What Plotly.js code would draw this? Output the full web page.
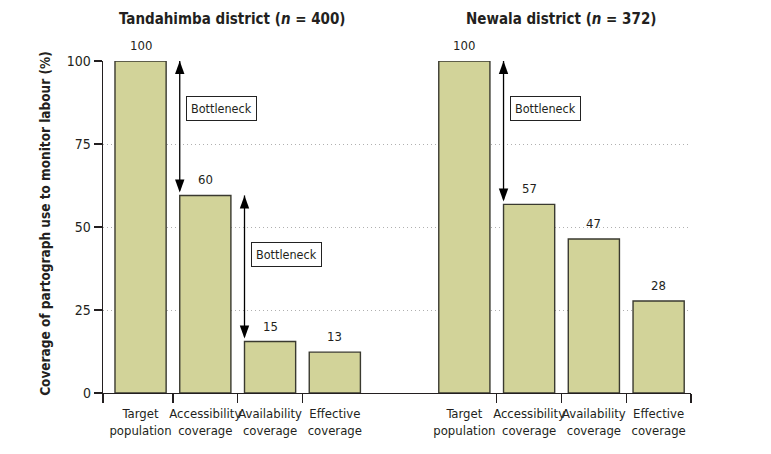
<!DOCTYPE html>
<html>
<head>
<meta charset="utf-8">
<script src="https://cdn.plot.ly/plotly-3.0.1.min.js"></script>
<style>
  html, body { margin: 0; padding: 0; background: #fff; }
  #chart { width: 771px; height: 454px; }
</style>
</head>
<body>
<div id="chart"></div>
<script>
// ---- data ----
const categories = ['Target<br>population', 'Accessibility<br>coverage', 'Availability<br>coverage', 'Effective<br>coverage'];
const tandahimbaValues = [100, 59.5, 15.5, 12.3];
const tandahimbaLabels = ['100', '60', '15', '13'];
const newalaValues = [100, 56.8, 46.4, 27.7];
const newalaLabels = ['100', '57', '47', '28'];
const districtTitles = ['Tandahimba district (<i>n</i> = 400)', 'Newala district (<i>n</i> = 372)'];
const bottleneckText = 'Bottleneck';
// bottlenecks: [district index, from category, to category]
const bottlenecks = [[0, 0, 1], [0, 1, 2], [1, 0, 1]];
const yTicks = [0, 25, 50, 75, 100];

// ---- layout helpers ----
const FONT = "'DejaVu Sans Condensed', 'Liberation Sans Narrow', 'Arial Narrow', sans-serif";
const INK = '#231f20';
const BAR_FILL = '#d2d399';
const BAR_LINE = '#3a3a30';
const BAR_W = 0.79;
const groupOffset = [0, categories.length + 1];
const districts = [
  { values: tandahimbaValues, labels: tandahimbaLabels },
  { values: newalaValues, labels: newalaLabels }
];

const traces = districts.map((d, g) => ({
  type: 'bar',
  x: categories.map((c, i) => i + groupOffset[g]),
  y: d.values,
  width: BAR_W,
  marker: { color: BAR_FILL, line: { color: BAR_LINE, width: 1.4 } },
  hoverinfo: 'skip',
  showlegend: false
}));
// invisible trace to activate xaxis2 (category labels)
const allX = [], allLabels = [];
districts.forEach((d, g) => categories.forEach((c, i) => { allX.push(i + groupOffset[g]); allLabels.push(c); }));
traces.push({ type: 'scatter', x: allX, y: allX.map(() => 0), xaxis: 'x2', mode: 'none', hoverinfo: 'skip', showlegend: false });

const xMin = -0.58, xMax = groupOffset[1] + categories.length - 0.5;
const boundaryTicks = [xMin];
districts.forEach((d, g) => { for (let i = 1; i < categories.length; i++) boundaryTicks.push(groupOffset[g] + i - 0.5); });
boundaryTicks.push(xMax);

const annotations = [];
// value labels
districts.forEach((d, g) => d.values.forEach((v, i) => annotations.push({
  x: i + groupOffset[g], y: v, xref: 'x', yref: 'y', text: d.labels[i],
  showarrow: false, yanchor: 'bottom', yshift: 6,
  font: { family: FONT, size: 13, color: INK }
})));
// district titles
const titleX = [1.42, 6.5];
districtTitles.forEach((t, g) => annotations.push({
  x: titleX[g], xref: 'x', y: 1, yref: 'paper', yanchor: 'middle', yshift: 42,
  text: '<b>' + t + '</b>', showarrow: false,
  font: { family: FONT, size: 15, color: INK }
}));
// y axis title
annotations.push({
  x: -0.099, xref: 'paper', y: 0.512, yref: 'paper', textangle: -90,
  text: '<b>Coverage of partograph use to monitor labour (%)</b>', showarrow: false,
  xanchor: 'center', yanchor: 'middle',
  font: { family: FONT, size: 13.5, color: INK }
});

// bottleneck arrows + boxes
const boxY = [85.7, 41.7, 85.6];
const shapes = [];
bottlenecks.forEach(([g, from, to], k) => {
  const vals = districts[g].values;
  const xa = groupOffset[g] + to - BAR_W / 2;
  shapes.push({ type: 'line', xref: 'x', yref: 'y', x0: xa, x1: xa, y0: vals[from], y1: vals[to] + 1.5,
    line: { color: '#000', width: 1.3 } });
  shapes.push({ type: 'path', xref: 'x', yref: 'y', xsizemode: 'pixel', ysizemode: 'pixel',
    xanchor: xa, yanchor: vals[from], path: 'M0,0 L-4.7,-13 L4.7,-13 Z',
    fillcolor: '#000', line: { width: 0 } });
  shapes.push({ type: 'path', xref: 'x', yref: 'y', xsizemode: 'pixel', ysizemode: 'pixel',
    xanchor: xa, yanchor: vals[to], path: 'M0,3 L-4.7,16 L4.7,16 Z',
    fillcolor: '#000', line: { width: 0 } });
  annotations.push({
    x: xa, xref: 'x', y: boxY[k], yref: 'y', xanchor: 'left', yanchor: 'middle', xshift: 6,
    text: bottleneckText, showarrow: false,
    bordercolor: '#222', borderwidth: 1, borderpad: 4, bgcolor: '#fff',
    font: { family: FONT, size: 12.5, color: INK }
  });
});

const layout = {
  width: 771, height: 454,
  margin: { l: 103, r: 80, t: 61, b: 61 },
  paper_bgcolor: '#fff', plot_bgcolor: '#fff',
  barmode: 'overlay',
  font: { family: FONT, size: 13, color: INK },
  xaxis: {
    range: [xMin, xMax], tickmode: 'array', tickvals: boundaryTicks, ticktext: boundaryTicks.map(() => ''),
    ticks: 'outside', ticklen: 9, tickwidth: 1.3, tickcolor: INK,
    showline: true, linecolor: INK, linewidth: 1.3, showgrid: false, zeroline: false, fixedrange: true
  },
  xaxis2: {
    overlaying: 'x', anchor: 'y', side: 'bottom', range: [xMin, xMax],
    tickmode: 'array', tickvals: allX, ticktext: allLabels, ticks: '', showline: false, tickangle: 0,
    showgrid: false, zeroline: false, ticklabelstandoff: 11,
    tickfont: { family: FONT, size: 13, color: INK }
  },
  yaxis: {
    range: [0, 100], tickmode: 'array', tickvals: yTicks,
    ticks: 'outside', ticklen: 8, tickwidth: 1.3, tickcolor: INK,
    showline: true, linecolor: INK, linewidth: 1.3,
    showgrid: true, gridcolor: '#b0b0b0', griddash: '1px,3px', gridwidth: 1,
    zeroline: false, tickfont: { family: FONT, size: 14, color: INK }
  },
  annotations: annotations,
  shapes: shapes
};

Plotly.newPlot('chart', traces, layout, { displayModeBar: false, staticPlot: true });
</script>
</body>
</html>
